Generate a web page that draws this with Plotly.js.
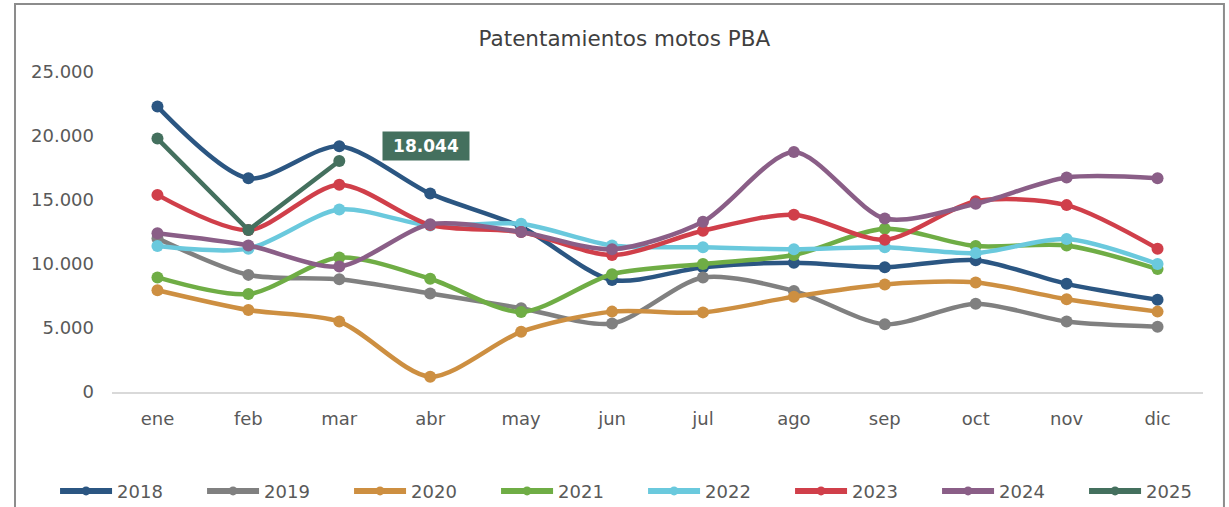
<!DOCTYPE html>
<html>
<head>
<meta charset="utf-8">
<script src="https://cdn.plot.ly/plotly-3.0.1.min.js"></script>
<style>html,body{margin:0;padding:0;background:#fff;}#chart{width:1229px;height:507px;}</style>
</head>
<body>
<div id="chart"></div>
<script>
const months = ["ene","feb","mar","abr","may","jun","jul","ago","sep","oct","nov","dic"];
const years = ["2018","2019","2020","2021","2022","2023","2024","2025"];
const colors = ["#2b5682","#808080","#cd8f41","#6fad45","#6ac9dd","#d03f4a","#8a5e87","#44705e"];
const v2018 = [22300,16700,19200,15500,12900,8750,9750,10100,9750,10300,8450,7200];
const v2019 = [12000,9150,8800,7700,6550,5350,8950,7900,5300,6900,5500,5100];
const v2020 = [7950,6400,5500,1200,4700,6280,6220,7450,8400,8550,7250,6280];
const v2021 = [8950,7650,10500,8850,6250,9200,10000,10700,12750,11400,11450,9600];
const v2022 = [11400,11200,14250,13000,13150,11450,11300,11150,11300,10850,11950,10000];
const v2023 = [15400,12650,16200,13050,12500,10700,12600,13850,11900,14900,14600,11200];
const v2024 = [12400,11450,9800,13100,12500,11150,13300,18750,13550,14700,16750,16700];
const v2025 = [19800,12650,18044];
const series = [v2018,v2019,v2020,v2021,v2022,v2023,v2024,v2025];
const labelValue = 18044;

const traces = series.map((vals, i) => ({
  type: "scatter",
  mode: "lines+markers",
  name: years[i],
  showlegend: false,
  x: months.slice(0, vals.length),
  y: vals,
  line: {color: colors[i], width: 4.5, shape: i === 7 ? "linear" : "spline", smoothing: 0.8},
  marker: {color: colors[i], size: 12}
}));
const legendTraces = years.map((yr, i) => ({
  type: "scatter", mode: "lines+markers", name: yr, showlegend: true,
  x: [null], y: [null],
  line: {color: colors[i], width: 6}, marker: {color: colors[i], size: 9}
}));

const layout = {
  width: 1229, height: 507,
  margin: {l: 112, r: 26, t: 72, b: 115, autoexpand: false},
  paper_bgcolor: "#ffffff", plot_bgcolor: "#ffffff",
  separators: ",.",
  font: {family: "DejaVu Sans, Verdana, sans-serif", color: "#595959", size: 18},
  title: {text: "Patentamientos motos PBA", font: {size: 21.5, color: "#404040"}, x: 0.508, xanchor: "center", y: 0.925, yanchor: "middle"},
  xaxis: {
    type: "category", range: [-0.5, 11.5], showgrid: false, zeroline: false,
    showline: true, linecolor: "#d9d9d9", linewidth: 2, ticks: "",
    tickfont: {size: 18, color: "#595959"}, ticklabelstandoff: 9, fixedrange: true
  },
  yaxis: {
    range: [0, 25000], tickvals: [0,5000,10000,15000,20000,25000], tickformat: ",d",
    showgrid: false, zeroline: false, showline: false, ticks: "",
    tickfont: {size: 18, color: "#595959"}, ticklabelstandoff: 17, fixedrange: true
  },
  showlegend: true,
  legend: {
    orientation: "h", x: -0.0522, xanchor: "left", y: -0.31, yanchor: "middle",
    font: {size: 18, color: "#595959"}, entrywidth: 80, entrywidthmode: "pixels",
    itemwidth: 52, bgcolor: "rgba(0,0,0,0)"
  },
  annotations: [{
    x: "mar", y: labelValue, xref: "x", yref: "y", text: "<b>" + labelValue.toLocaleString("de-DE") + "</b>",
    showarrow: false, xshift: 87, yshift: 15, bgcolor: "#44705e",
    font: {color: "#ffffff", size: 17, family: "DejaVu Sans, Verdana, sans-serif"},
    borderpad: 4, width: 78, height: 20
  }],
  shapes: [{
    type: "rect", xref: "paper", yref: "paper", x0: -0.0889, x1: 1.0192, y0: -0.45, y1: 1.2125,
    line: {color: "#8c8c8c", width: 2}, fillcolor: "rgba(0,0,0,0)", layer: "below"
  }]
};

Plotly.newPlot("chart", traces.concat(legendTraces), layout, {displayModeBar: false, staticPlot: true});
</script>
</body>
</html>
